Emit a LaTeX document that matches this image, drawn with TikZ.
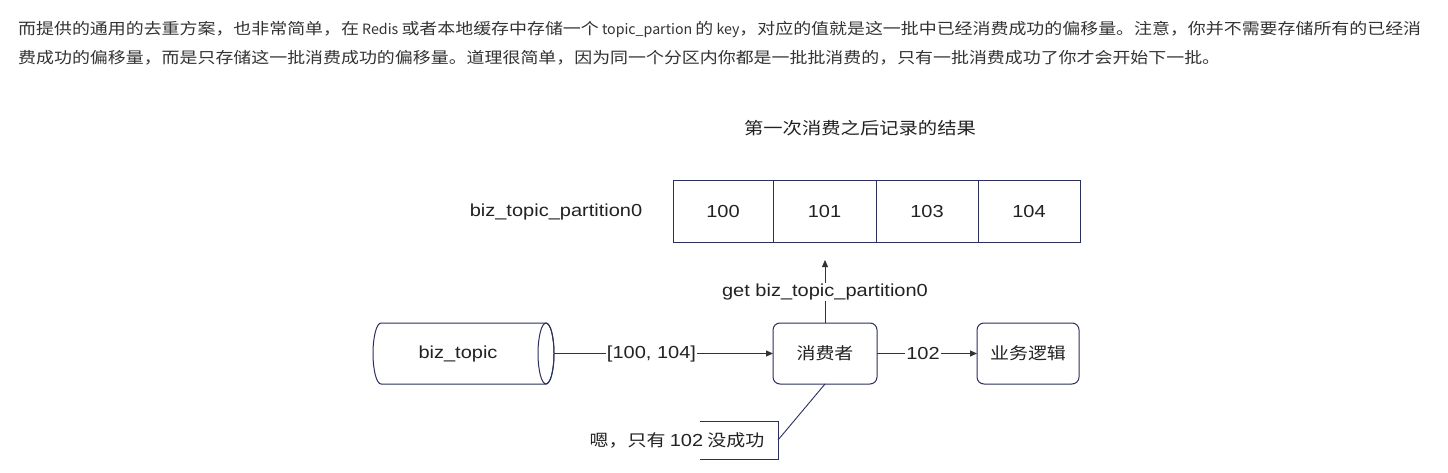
\documentclass[tikz,border=0pt]{standalone}
\usepackage{fontspec}
\newfontfamily\cjkfam[FakeStretch=1.15]{Noto Sans CJK SC}
\newfontfamily\cjkplain{Noto Sans CJK SC}
\newfontfamily\latfam[FakeStretch=1.15]{Liberation Sans}
\usetikzlibrary{arrows.meta}
\definecolor{navy}{HTML}{2A2F5E}
\definecolor{txt}{HTML}{222222}
\definecolor{para}{HTML}{333333}
\newcommand\pf{\cjkfam\fontsize{15.6}{28}\selectfont}
\newcommand\pl[1]{{\cjkplain\fontsize{14.2}{28}\selectfont #1}}
\newcommand\dl{\latfam\fontsize{17.4}{20}\selectfont}
\newcommand\dc{\cjkfam\fontsize{16.5}{20}\selectfont}
\tikzset{
  cell/.style={draw=navy,line width=1pt,minimum height=61pt,inner sep=0pt,outer sep=0pt,font=\dl,text=txt},
  rbox/.style={draw=navy,line width=1pt,rounded corners=7pt,minimum width=104pt,minimum height=61pt,inner sep=0pt,outer sep=0pt,text=txt},
  conn/.style={draw=black!80,line width=0.9pt,-{Triangle[length=7pt,width=6pt]}},
  lbl/.style={fill=white,inner sep=1pt,font=\dl,text=txt},
  plain/.style={inner sep=0pt,text=txt},
  ptext/.style={anchor=west,inner sep=0pt,text=para,font=\pf}
}
\begin{document}
\begin{tikzpicture}[x=1pt,y=-1pt]
\fill[white] (0,0) rectangle (1448,473);
\useasboundingbox (0,0) rectangle (1448,473);
% paragraph
\node[ptext] (p1) at (18,30) {而提供的通用的去重方案，也非常简单，在\pl{ Redis }或者本地缓存中存储一个\pl{ topic\_partion }的\pl{ key}，对应的值就是这一批中已经消费成功的偏移量。注意，你并不需要存储所有的已经消};
\node[ptext] (p2) at (18,58) {费成功的偏移量，而是只存储这一批消费成功的偏移量。道理很简单，因为同一个分区内你都是一批批消费的，只有一批消费成功了你才会开始下一批。};
% title
\node[plain,font=\cjkfam\fontsize{16.8}{20}\selectfont] (title) at (860,128) {第一次消费之后记录的结果};
% table
\node[plain,font=\dl] (key) at (556,212) {biz\_topic\_partition0};
\node[cell,minimum width=100pt] (c100) at (723,211.5) {100};
\node[cell,minimum width=103pt] (c101) at (824.5,211.5) {101};
\node[cell,minimum width=102pt] (c103) at (927,211.5) {103};
\node[cell,minimum width=102pt] (c104) at (1029,211.5) {104};
% consumer and business
\node[rbox,font=\dc] (cons) at (825,353.5) {消费者};
\node[rbox,minimum width=102pt,font=\dc] (biz) at (1028,353.5) {业务逻辑};
% cylinder
\draw[navy,line width=1pt,fill=white] (381,323) -- (546,323) arc[start angle=90,end angle=-90,x radius=8pt,y radius=30.5pt] -- (381,384) arc[start angle=270,end angle=90,x radius=8pt,y radius=30.5pt] -- cycle;
\draw[navy,line width=1pt] (546,353.5) ellipse[x radius=8pt,y radius=30.5pt];
\node[plain,font=\dl] (topic) at (458,354) {biz\_topic};
\coordinate (cylR) at (554,353.5);
% connectors
\draw[conn] (cylR) -- node[lbl,pos=0.445] (l1) {[100, 104]} (cons.west);
\draw[conn] (cons.east) -- node[lbl,pos=0.46] (l2) {102} (biz.west);
\coordinate (getTip) at (825,260);
\draw[conn] (cons.north) -- (getTip);
\node[lbl] (getlbl) at (825,292) {get biz\_topic\_partition0};
% callout
\node[plain,font=\dc] (note) at (677,440) {嗯，只有 {\dl 102} 没成功};
\coordinate (bTL) at (700,421);
\coordinate (bTR) at (778,421);
\coordinate (bBR) at (778,459);
\coordinate (bBL) at (700,459);
\coordinate (bM) at (778,440);
\draw[navy,line width=1pt] (bTL) -- (bTR) -- (bBR) -- (bBL);
\draw[navy,line width=0.9pt] (bM) -- (cons.south);
\end{tikzpicture}
\end{document}
